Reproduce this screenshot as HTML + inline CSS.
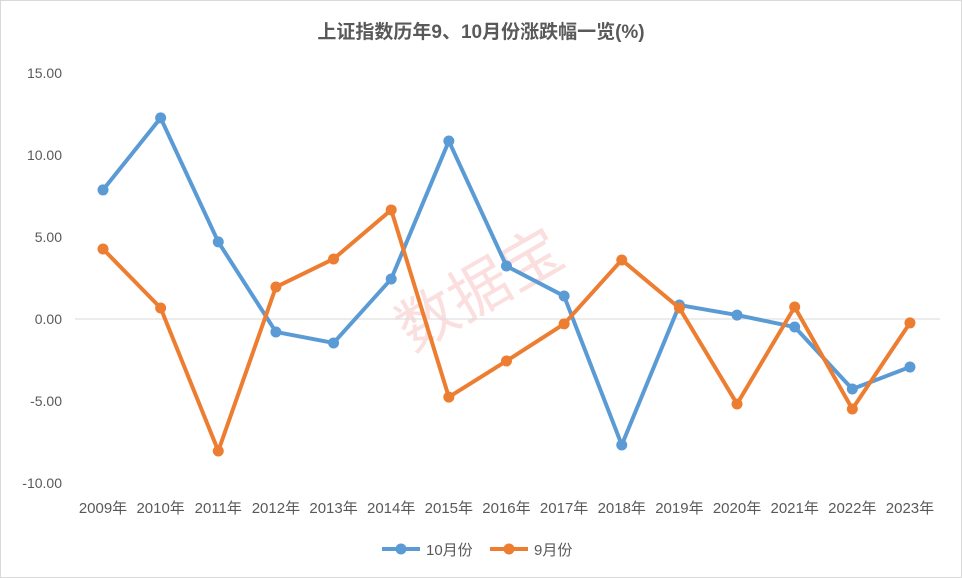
<!DOCTYPE html>
<html><head><meta charset="utf-8"><style>
body{margin:0;background:#fff;}
svg{display:block;font-family:"Liberation Sans","Noto Sans CJK SC",sans-serif;}
</style></head><body>
<svg id="chart" width="962" height="578">
<rect x="0.5" y="0.5" width="961" height="577" fill="#fff" stroke="#d9d9d9"/>
<text x="481" y="38" text-anchor="middle" font-size="19" font-weight="bold" fill="#595959">上证指数历年9、10月份涨跌幅一览(%)</text>
<text x="480" y="310" text-anchor="middle" font-size="60" fill="#f4a6a6" opacity="0.35" transform="rotate(-30 480 290)">数据宝</text>
<g id="grid"></g><g id="series"></g>
<g>
<line x1="382" y1="549" x2="420" y2="549" stroke="#5B9BD5" stroke-width="4"/><circle cx="401" cy="549" r="5.5" fill="#5B9BD5"/>
<text x="426" y="555" font-size="15" fill="#595959">10月份</text>
<line x1="490" y1="549" x2="528" y2="549" stroke="#ED7D31" stroke-width="4"/><circle cx="509" cy="549" r="5.5" fill="#ED7D31"/>
<text x="534" y="555" font-size="15" fill="#595959">9月份</text>
</g>
</svg>
<script>
const years=["2009年","2010年","2011年","2012年","2013年","2014年","2015年","2016年","2017年","2018年","2019年","2020年","2021年","2022年","2023年"];
const oct=[7.87,12.26,4.7,-0.79,-1.46,2.44,10.85,3.23,1.4,-7.68,0.85,0.24,-0.49,-4.27,-2.93];
const sep=[4.27,0.67,-8.05,1.95,3.66,6.65,-4.76,-2.56,-0.3,3.6,0.67,-5.18,0.73,-5.49,-0.24];
const yTicks=[15,10,5,0,-5,-10];
const ns="http://www.w3.org/2000/svg";
const y=v=>319-v*16.4;
const x=i=>103+i*57.64;
const grid=document.getElementById('grid'),ser=document.getElementById('series');
function mk(t,a,p){const e=document.createElementNS(ns,t);for(const k in a)e.setAttribute(k,a[k]);p.appendChild(e);return e;}
yTicks.forEach(v=>{
 if(v===0){const l=mk('line',{x1:75,x2:940,y1:y(0),y2:y(0),stroke:'#d9d9d9'},grid);
 
 }
 const t=mk('text',{x:62,y:y(v)+5,'text-anchor':'end','font-size':14,fill:'#595959'},grid);
 t.textContent=v.toFixed(2);
 
 
});
years.forEach((s,i)=>{
 const t=mk('text',{x:x(i),y:513,'text-anchor':'middle','font-size':15,fill:'#595959'},grid);
 t.textContent=s;
 
 
});
function draw(d,c,n){
 const p=mk('polyline',{points:d.map((v,i)=>x(i)+','+y(v)).join(' '),fill:'none',stroke:c,'stroke-width':4,'stroke-linejoin':'round'},ser);
 
 
 d.forEach((v,i)=>{const m=mk('circle',{cx:x(i),cy:y(v),r:5.5,fill:c},ser);
 
 });
}
draw(oct,'#5B9BD5','oct');
draw(sep,'#ED7D31','sep');
</script>
</body></html>
